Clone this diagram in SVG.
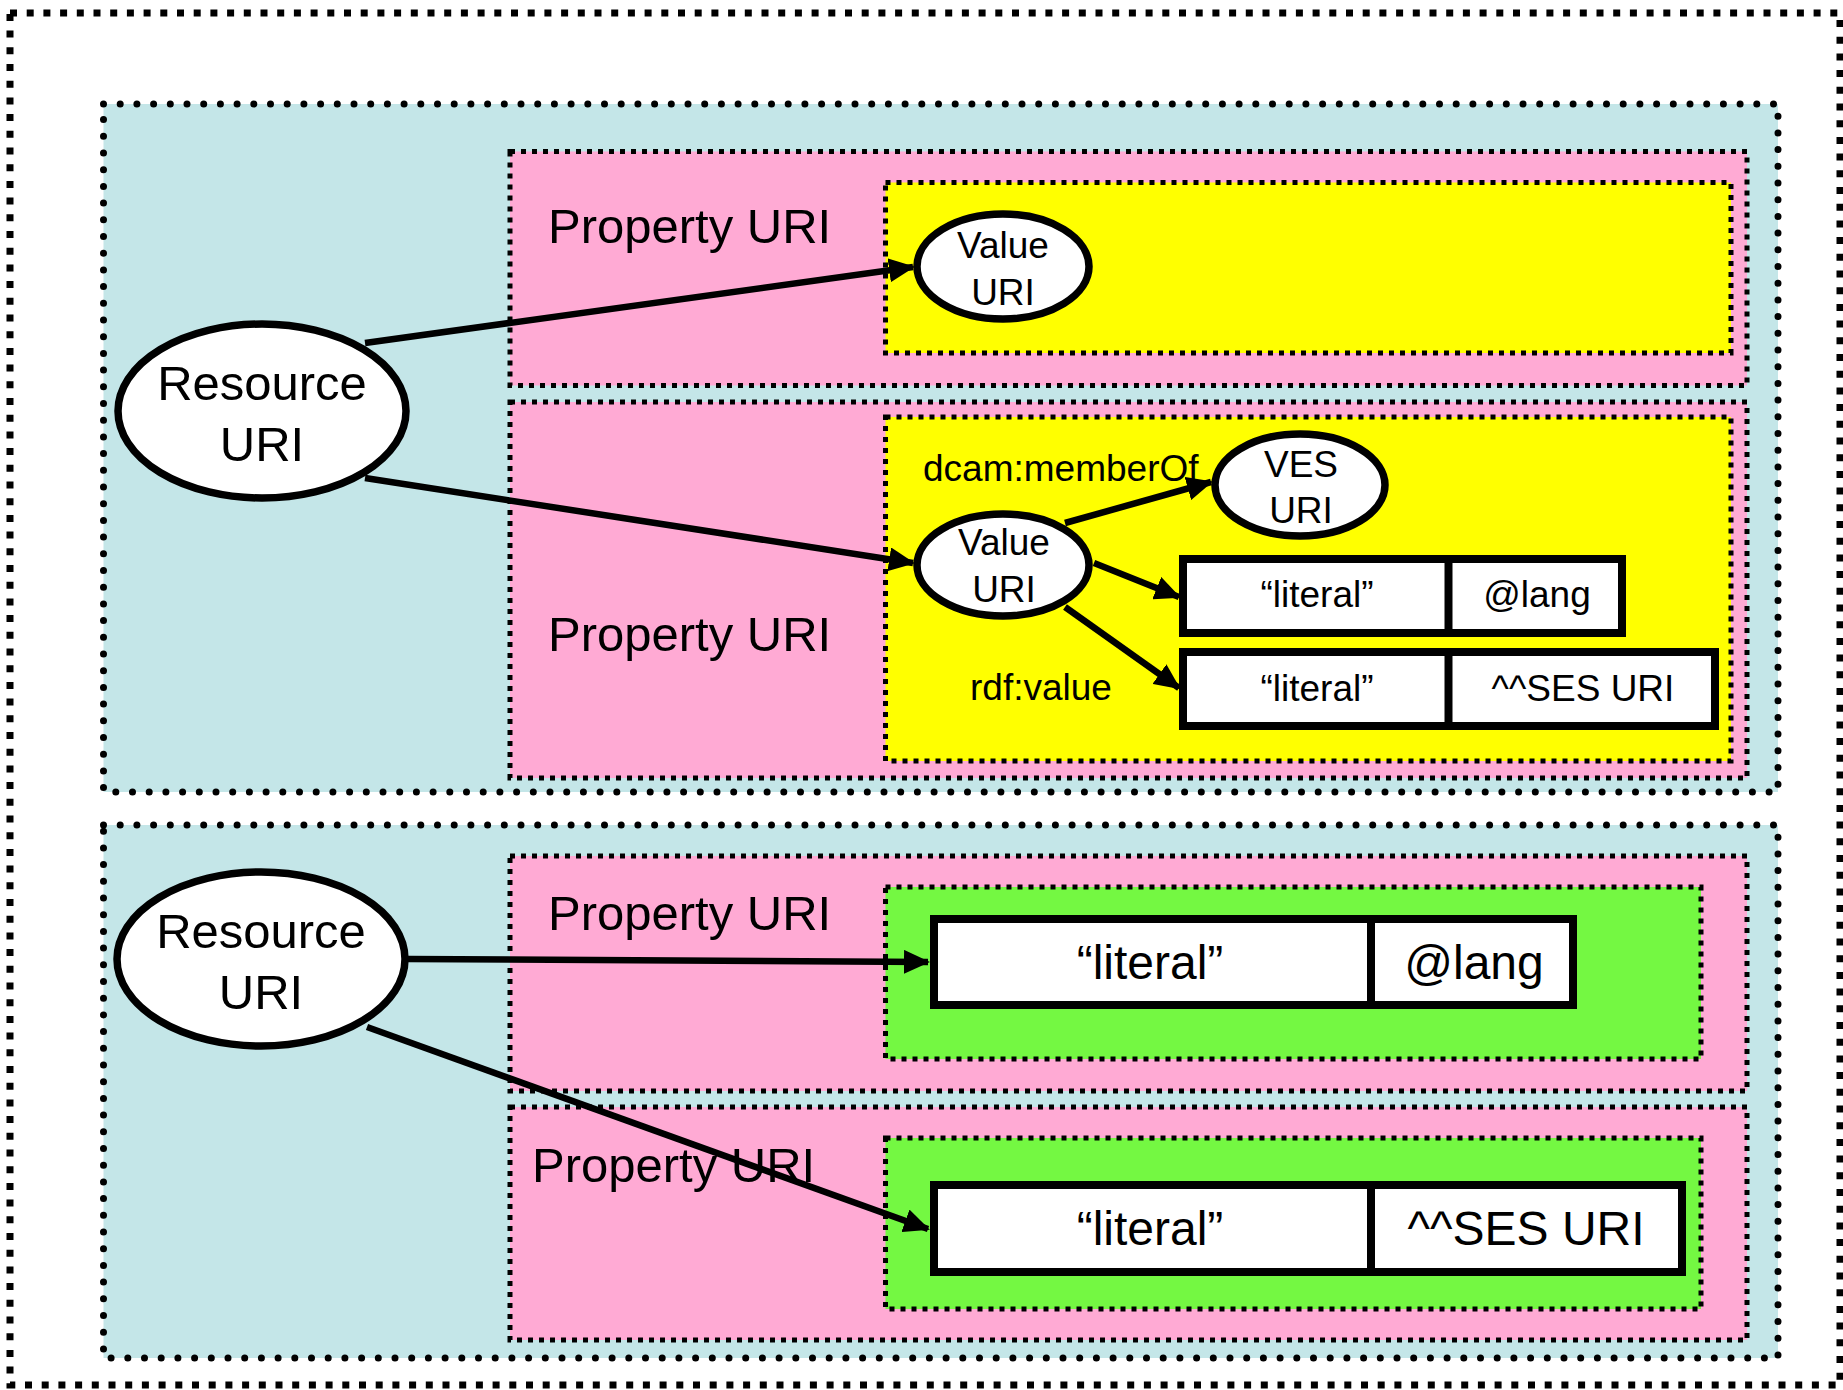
<svg xmlns="http://www.w3.org/2000/svg" width="1843" height="1390" viewBox="0 0 1843 1390">
<style>
.outer{fill:none;stroke:#000;stroke-width:7;stroke-dasharray:7 9.7}
.res{fill:#C4E6E8;stroke:#000;stroke-width:7;stroke-dasharray:0 16.7;stroke-linecap:round}
.prop{fill:#FFAAD4;stroke:#000;stroke-width:5;stroke-dasharray:5 6}
.yel{fill:#FFFF00;stroke:#000;stroke-width:5;stroke-dasharray:5 6}
.grn{fill:#74F842;stroke:#000;stroke-width:5;stroke-dasharray:5 6}
.node{fill:#fff;stroke:#000;stroke-width:7.5}
.box{fill:#fff;stroke:#000;stroke-width:8}
.div{stroke:#000;stroke-width:8}
.edge{stroke:#000;stroke-width:6.5;fill:none;marker-end:url(#ah)}
text{font-family:"Liberation Sans",Arial,sans-serif;fill:#000}
.big{font-size:49px}
.mid{font-size:48px}
.sm{font-size:37px}
.c{text-anchor:middle}
</style>
<defs>
<marker id="ah" markerUnits="userSpaceOnUse" markerWidth="26" markerHeight="24" refX="24" refY="12" orient="auto">
<path d="M0,0 L26,12 L0,24 z" fill="#000"/>
</marker>
</defs>
<rect class="outer" x="10" y="13" width="1830" height="1372"/>
<g id="resource-group-1">
<rect class="res" x="103.5" y="104" width="1674.5" height="688"/>
</g>
<g id="property-1">
<rect class="prop" x="510" y="151.5" width="1237" height="234"/>
<text class="big" x="548" y="243">Property URI</text>
</g>
<g id="value-area-1">
<rect class="yel" x="885.5" y="182.5" width="845.5" height="170.5"/>
</g>
<g id="property-2">
<rect class="prop" x="510" y="402" width="1237" height="376"/>
<text class="big" x="548" y="651">Property URI</text>
</g>
<g id="value-area-2">
<rect class="yel" x="885.5" y="417" width="845.5" height="344"/>
<text class="sm" x="923" y="481">dcam:memberOf</text>
<text class="sm" x="970" y="700">rdf:value</text>
</g>
<g id="resource-group-2">
<rect class="res" x="103.5" y="825" width="1674.5" height="533"/>
</g>
<g id="property-3">
<rect class="prop" x="510" y="856" width="1237" height="235"/>
<text class="big" x="548" y="930">Property URI</text>
</g>
<g id="value-area-3">
<rect class="grn" x="885.5" y="887" width="815.5" height="172"/>
</g>
<g id="property-4">
<rect class="prop" x="510" y="1107" width="1237" height="233"/>
<text class="big" x="532" y="1182">Property URI</text>
</g>
<g id="value-area-4">
<rect class="grn" x="885.5" y="1138" width="815.5" height="171"/>
</g>
<g id="resource-uri-1">
<ellipse class="node" cx="262" cy="411" rx="144" ry="87"/>
<text class="big c" x="262" y="400">Resource</text>
<text class="big c" x="262" y="461">URI</text>
</g>
<g id="value-uri-1">
<ellipse class="node" cx="1003" cy="266.5" rx="86" ry="52.5"/>
<text class="sm c" x="1003" y="258">Value</text>
<text class="sm c" x="1003" y="305">URI</text>
</g>
<g id="value-uri-2">
<ellipse class="node" cx="1003" cy="565" rx="86" ry="51"/>
<text class="sm c" x="1004" y="555">Value</text>
<text class="sm c" x="1004" y="602">URI</text>
</g>
<g id="ves-uri">
<ellipse class="node" cx="1300" cy="485" rx="85" ry="51"/>
<text class="sm c" x="1301" y="477">VES</text>
<text class="sm c" x="1301" y="523">URI</text>
</g>
<g id="literal-lang-1">
<rect class="box" x="1183" y="559" width="439" height="74"/>
<line class="div" x1="1448.5" y1="559" x2="1448.5" y2="633"/>
<text class="sm c" x="1317" y="607">“literal”</text>
<text class="sm c" x="1537" y="607">@lang</text>
</g>
<g id="literal-ses-1">
<rect class="box" x="1183" y="652" width="532" height="74"/>
<line class="div" x1="1448.5" y1="652" x2="1448.5" y2="726"/>
<text class="sm c" x="1317" y="701">“literal”</text>
<text class="sm c" x="1583" y="701">^^SES URI</text>
</g>
<g id="resource-uri-2">
<ellipse class="node" cx="261" cy="959" rx="144" ry="87"/>
<text class="big c" x="261" y="948">Resource</text>
<text class="big c" x="261" y="1009">URI</text>
</g>
<g id="literal-lang-2">
<rect class="box" x="934" y="919" width="639" height="86"/>
<line class="div" x1="1371" y1="919" x2="1371" y2="1005"/>
<text class="mid c" x="1150" y="979">“literal”</text>
<text class="mid c" x="1474" y="979">@lang</text>
</g>
<g id="literal-ses-2">
<rect class="box" x="934" y="1185" width="748" height="87"/>
<line class="div" x1="1371" y1="1185" x2="1371" y2="1272"/>
<text class="mid c" x="1150" y="1245">“literal”</text>
<text class="mid c" x="1526" y="1245">^^SES URI</text>
</g>
<g id="connectors">
<line class="edge" x1="365" y1="343" x2="913" y2="267"/>
<line class="edge" x1="365" y1="478" x2="913" y2="563"/>
<line class="edge" x1="1065" y1="523" x2="1211" y2="482"/>
<line class="edge" x1="1094" y1="563" x2="1179" y2="597"/>
<line class="edge" x1="1065" y1="607" x2="1179" y2="688"/>
<line class="edge" x1="408" y1="959" x2="928" y2="962"/>
<line class="edge" x1="367" y1="1027" x2="928" y2="1229"/>
</g>
</svg>
